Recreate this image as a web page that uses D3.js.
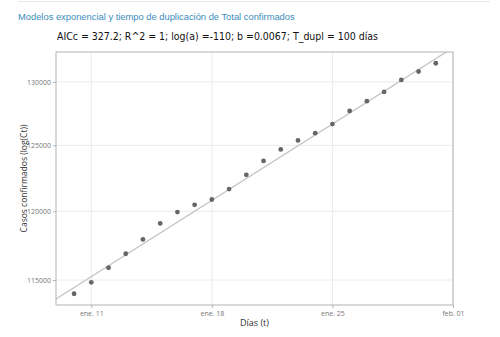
<!DOCTYPE html>
<html>
<head>
<meta charset="utf-8">
<script src="https://cdn.jsdelivr.net/npm/d3@7"></script>
<style>
  body { margin: 0; background: #fff; }
  svg { display: block; }
</style>
</head>
<body>
<div id="chart"></div>
<script>
// Observed data: daily totals
const dates = ["2021-01-10", "2021-01-11", "2021-01-12", "2021-01-13", "2021-01-14", "2021-01-15",
               "2021-01-16", "2021-01-17", "2021-01-18", "2021-01-19", "2021-01-20", "2021-01-21",
               "2021-01-22", "2021-01-23", "2021-01-24", "2021-01-25", "2021-01-26", "2021-01-27",
               "2021-01-28", "2021-01-29", "2021-01-30", "2021-01-31"];
const confirmed = [114030, 114840, 115880, 116890, 117930, 119100, 119940, 120480, 120880, 121660, 122740,
                   123800, 124680, 125380, 125940, 126650, 127690, 128460, 129200, 130160, 130840, 131510];

// Fitted exponential model (endpoints of the line)
const fitDates = ["2021-01-08", "2021-02-02"];
const fitValues = [112940, 133680];

const yTicks = [115000, 120000, 125000, 130000];
const xTicks = ["2021-01-11", "2021-01-18", "2021-01-25", "2021-02-01"];
const monthsEs = ["ene.", "feb.", "mar.", "abr.", "may.", "jun.", "jul.", "ago.", "sep.", "oct.", "nov.", "dic."];

const title = "Modelos exponencial y tiempo de duplicación de Total confirmados";
const subtitle = "AICc = 327.2; R^2 = 1; log(a) =-110; b =0.0067; T_dupl = 100 días";

const W = 500, H = 337;
const margin = { top: 52, right: 47, bottom: 32, left: 56 };
const width = W - margin.left - margin.right,
      height = H - margin.top - margin.bottom;

const parse = d3.timeParse("%Y-%m-%d");
const points = dates.map((d, i) => ({ date: parse(d), value: confirmed[i] }));
const fit = fitDates.map((d, i) => ({ date: parse(d), value: fitValues[i] }));

const svg = d3.select("#chart").append("svg")
    .attr("width", W)
    .attr("height", H);

// shrink a text until it fits the width seen in the picture
function fitWidth(sel, target) {
    const len = sel.node().getComputedTextLength();
    const fs = +sel.attr("font-size");
    sel.attr("font-size", (fs * target / len).toFixed(2));
}

// top rule and titles
svg.append("line")
   .attr("x1", 18).attr("x2", 490).attr("y1", 1.5).attr("y2", 1.5)
   .attr("stroke", "#e6e6e6");

const t1 = svg.append("text")
   .attr("x", 18).attr("y", 20)
   .attr("font-family", "Liberation Sans, Arial, sans-serif")
   .attr("font-size", 10.5)
   .attr("fill", "#3c8dbc")
   .text(title);
fitWidth(t1, 277);

const t2 = svg.append("text")
   .attr("x", 57).attr("y", 40)
   .attr("font-family", "DejaVu Sans Condensed, DejaVu Sans, sans-serif")
   .attr("font-size", 10.5)
   .attr("fill", "#111")
   .text(subtitle);
fitWidth(t2, 321);

const g = svg.append("g")
    .attr("transform", `translate(${margin.left},${margin.top})`);

const x = d3.scaleTime()
    .domain([new Date(2021, 0, 8, 22, 50), parse("2021-02-01")])
    .range([0, width]);

const y = d3.scaleLog()
    .domain([113240, 132430])
    .range([height, 0]);

// grid
g.append("g").selectAll("line.vg")
 .data(xTicks.map(parse))
 .enter().append("line")
 .attr("x1", d => x(d)).attr("x2", d => x(d))
 .attr("y1", 0).attr("y2", height)
 .attr("stroke", "#ebebeb");

g.append("g").selectAll("line.hg")
 .data(yTicks)
 .enter().append("line")
 .attr("x1", 0).attr("x2", width)
 .attr("y1", d => y(d)).attr("y2", d => y(d))
 .attr("stroke", "#ebebeb");

// clip for the fitted line
g.append("clipPath").attr("id", "clip")
 .append("rect").attr("width", width).attr("height", height);

g.append("path")
 .datum(fit)
 .attr("clip-path", "url(#clip)")
 .attr("fill", "none")
 .attr("stroke", "#c4c4c4")
 .attr("stroke-width", 1.3)
 .attr("d", d3.line().x(d => x(d.date)).y(d => y(d.value)));

g.selectAll("circle")
 .data(points)
 .enter().append("circle")
 .attr("cx", d => x(d.date))
 .attr("cy", d => y(d.value))
 .attr("r", 2.4)
 .attr("fill", "#666");

// frame
g.append("rect")
 .attr("width", width).attr("height", height)
 .attr("fill", "none")
 .attr("stroke", "#b3b3b3")
 .attr("stroke-width", 1);

// axes
const fmtDate = d => `${monthsEs[d.getMonth()]} ${d3.timeFormat("%d")(d)}`;

const xAxis = g.append("g")
    .attr("transform", `translate(0,${height})`)
    .call(d3.axisBottom(x).tickValues(xTicks.map(parse)).tickFormat(fmtDate).tickSize(3).tickPadding(3));

const yAxis = g.append("g")
    .call(d3.axisLeft(y).tickValues(yTicks).tickFormat(d3.format("d")).tickSize(3).tickPadding(2));

[xAxis, yAxis].forEach(a => {
    a.select(".domain").remove();
    a.selectAll(".tick line").attr("stroke", "#b3b3b3");
    a.selectAll("text")
     .attr("fill", "#777")
     .attr("font-size", 7)
     .attr("font-family", "Open Sans, DejaVu Sans, sans-serif");
});

// axis titles
svg.append("text")
   .attr("x", margin.left + width / 2).attr("y", 326)
   .attr("text-anchor", "middle")
   .attr("font-family", "Open Sans, DejaVu Sans, sans-serif")
   .attr("font-size", 9)
   .attr("fill", "#333")
   .text("Días (t)");

svg.append("text")
   .attr("transform", `translate(27,${margin.top + height / 2}) rotate(-90)`)
   .attr("text-anchor", "middle")
   .attr("font-family", "Open Sans, DejaVu Sans, sans-serif")
   .attr("font-size", 8.5)
   .attr("fill", "#333")
   .text("Casos confirmados (log(Ct))");
</script>
</body>
</html>
